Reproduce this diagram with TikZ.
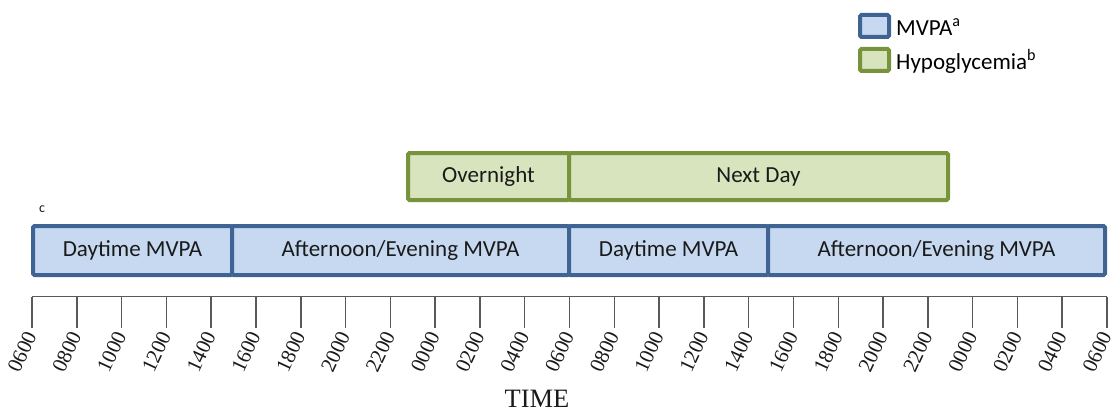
\documentclass[tikz,border=0pt]{standalone}
\usepackage{fontspec}
\setmainfont{Liberation Serif}
\newfontfamily\carlitofont{Carlito}
\usetikzlibrary{calc}
\definecolor{mvpaline}{HTML}{3F6493}
\definecolor{mvpafill}{HTML}{C6D9F1}
\definecolor{hypoline}{HTML}{77933C}
\definecolor{hypofill}{HTML}{D7E4BD}
\definecolor{axisgray}{HTML}{595959}
\definecolor{txt}{HTML}{1A1A1A}
\tikzset{
  mvpabox/.style={draw=mvpaline, fill=mvpafill, line width=4pt, rounded corners=1.5pt,
    inner sep=0pt, text=txt, font=\carlitofont\fontsize{23}{26}\selectfont},
  hypobox/.style={draw=hypoline, fill=hypofill, line width=4pt, rounded corners=1.5pt,
    inner sep=0pt, text=txt, font=\carlitofont\fontsize{23}{26}\selectfont},
  ticklabel/.style={anchor=east, rotate=65, inner sep=0pt, font=\fontsize{21}{22}\selectfont, text=txt},
  legtext/.style={anchor=west, inner sep=0pt, font=\carlitofont\fontsize{23}{26}\selectfont, text=black}
}
\begin{document}
\begin{tikzpicture}[x=1pt,y=-1pt]
\useasboundingbox (0,0) rectangle (1114,412);
% legend
\node[mvpabox, minimum width=29pt, minimum height=22pt] (legm) at (874.5,26) {};
\node[hypobox, minimum width=29pt, minimum height=22pt] (legh) at (874.5,60) {};
\node[legtext] (legmt) at (896,27) {MVPA\textsuperscript{a}};
\node[legtext] (leght) at (896,61) {Hypoglycemia\textsuperscript{b}};
% hypoglycemia row
\node[hypobox, minimum width=161pt, minimum height=47pt] (over) at (488.5,176.5) {Overnight};
\node[hypobox, minimum width=379pt, minimum height=47pt] (next) at (758.5,176.5) {Next Day};
% mvpa row
\node[font=\carlitofont\fontsize{14}{15}\selectfont, text=txt] (c) at (42,209) {c};
\node[mvpabox, minimum width=199pt, minimum height=49pt] (d1) at (132.5,250.5) {Daytime MVPA};
\node[mvpabox, minimum width=337pt, minimum height=49pt] (ae1) at (400.5,250.5) {Afternoon/Evening MVPA};
\node[mvpabox, minimum width=199pt, minimum height=49pt] (d2) at (668.5,250.5) {\raisebox{2pt}{Daytime MVPA}};
\node[mvpabox, minimum width=337pt, minimum height=49pt] (ae2) at (936.5,250.5) {Afternoon/Evening MVPA};
% axis
\coordinate (axl) at (32,296.5);
\coordinate (axr) at (1107,296.5);
\draw[axisgray, line width=1.5pt] (axl) -- (axr);
\foreach \lab [count=\i from 0] in {0600,0800,1000,1200,1400,1600,1800,2000,2200,0000,0200,0400,0600,0800,1000,1200,1400,1600,1800,2000,2200,0000,0200,0400,0600}{
  \coordinate (t\i) at ($(axl)!\i/24!(axr)$);
  \draw[axisgray, line width=1.5pt] (t\i) -- ++(0,31);
  \node[ticklabel] (l\i) at ($(t\i)+(-1,36)$) {\lab};
}
\node[font=\fontsize{26.5}{28}\selectfont, text=txt] (time) at (537,399) {TIME};
\end{tikzpicture}
\end{document}
